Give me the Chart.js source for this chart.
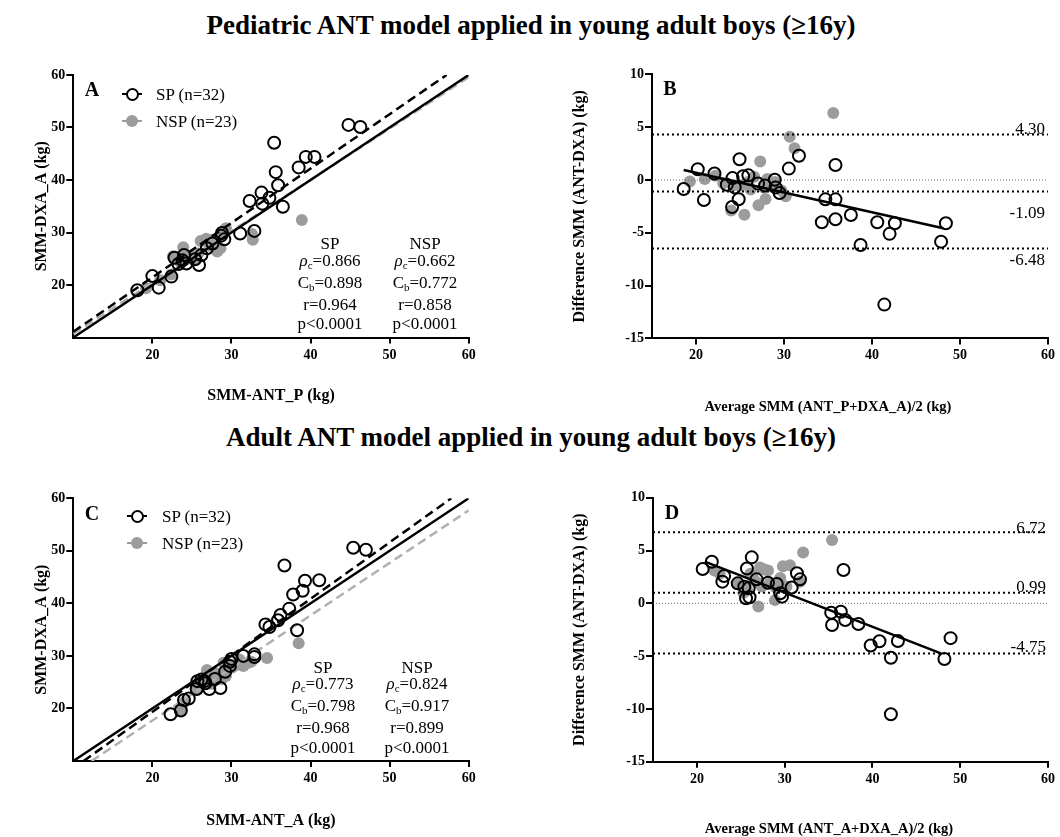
<!DOCTYPE html>
<html><head><meta charset="utf-8">
<script src="https://cdn.jsdelivr.net/npm/chart.js@4.4.1/dist/chart.umd.min.js"></script>
<style>
body{margin:0;background:#fff;width:1060px;height:837px;position:relative;overflow:hidden;font-family:'Liberation Serif','Times New Roman',serif;color:#000;}
canvas{position:absolute;}
.t{position:absolute;white-space:nowrap;line-height:1;pointer-events:none;}
.c{transform:translate(-50%,-50%);}
.l{transform:translate(0,-50%);}
.r{transform:translate(-100%,-50%);}
.ttl{font-size:27px;font-weight:bold;}
.let{font-size:20px;font-weight:bold;}
.axt{font-size:14.5px;font-weight:bold;}
.st{font-size:17px;}
.st sub{font-size:11px;vertical-align:-3px;}
.sym{position:absolute;pointer-events:none;box-sizing:border-box;}
</style></head><body>
<canvas id="cA" width="520" height="380" style="left:0;top:40px"></canvas>
<canvas id="cB" width="540" height="380" style="left:520px;top:40px"></canvas>
<canvas id="cC" width="520" height="377" style="left:0;top:460px"></canvas>
<canvas id="cD" width="540" height="377" style="left:520px;top:460px"></canvas>
<div id="ov"></div>
<script>
// ---------------- DATA ----------------
const titleTop = "Pediatric ANT model applied in young adult boys (\u226516y)";
const titleBottom = "Adult ANT model applied in young adult boys (\u226516y)";

// Panel A: SMM-ANT_P (x) vs SMM-DXA_A (y)
const aSpX = [18.1,20.0,20.8,22.4,22.8,23.3,24.0,23.8,24.3,25.4,25.9,26.2,26.9,27.6,28.7,28.8,29.1,31.1,32.9,32.3,33.8,33.9,34.8,35.4,35.6,35.9,36.5,38.5,39.4,40.5,44.8,46.3];
const aSpY = [19.0,21.7,19.5,21.6,25.2,24.0,25.7,24.7,24.1,24.9,23.8,25.7,27.0,27.9,29.4,29.9,28.7,29.8,30.3,36.0,37.6,35.5,36.6,47.1,41.5,39.0,34.9,42.4,44.4,44.4,50.5,50.1];
const aNspX = [19.2,21.0,22.4,22.6,23.5,23.9,24.5,25.0,25.8,26.1,26.8,27.2,28.2,28.6,29.3,29.0,28.0,32.7,38.9,32.6,24.2,25.3,27.5];
const aNspY = [19.4,20.9,22.0,25.5,24.4,27.2,25.0,25.5,26.0,28.4,28.8,27.5,26.4,27.0,30.8,30.0,28.2,28.6,32.4,29.7,25.8,24.8,28.6];
const aLineSp = [[10,11.1],[57.2,60]];
const aLineNsp = [[10,10.7],[60,59.6]];
const aIdentity = [[10,10],[60,60]];
const aStatsSp = ["0.866","0.898","0.964"];
const aStatsNsp = ["0.662","0.772","0.858"];

// Panel B: Bland-Altman (ANT_P vs DXA_A)
const bSpX = [18.6,20.2,20.9,22.1,23.5,24.15,24.4,24.95,24.85,24.1,25.35,25.95,27.05,27.85,28.95,29.05,29.5,30.55,31.7,34.3,34.7,35.85,35.85,35.85,37.6,38.7,40.6,42.0,42.6,41.4,47.85,48.4];
const bSpY = [-0.85,1.02,-1.9,0.62,-0.45,0.18,-0.7,1.96,-1.82,-2.55,0.35,0.44,-0.34,-0.52,0.03,-0.7,-1.23,1.08,2.3,-4.0,-1.83,1.42,-1.83,-3.72,-3.31,-6.15,-4.0,-5.1,-4.1,-11.8,-5.84,-4.1];
const bNspX = [19.3,21.0,22.2,23.1,24.0,24.3,25.2,25.5,25.9,26.2,26.6,27.1,27.3,27.9,28.1,28.4,29.0,30.2,29.7,30.65,31.2,35.6,27.7];
const bNspY = [-0.15,0.1,0.4,-0.3,-2.9,-0.5,-0.5,-3.3,-0.2,-0.9,0.3,-2.4,1.75,-1.8,0.1,-0.6,-0.2,-1.55,-1.0,4.1,3.0,6.35,-0.7];
const bRegLine = [[18.6,0.95],[48.1,-4.57]];
const bLimits = [4.30,-1.09,-6.48];

// Panel C: SMM-ANT_A (x) vs SMM-DXA_A (y)
const cSpX = [22.3,23.6,24.0,24.6,25.6,25.7,26.2,26.7,27.2,27.9,28.6,29.2,29.8,30.0,29.8,31.5,32.9,32.9,34.3,34.8,35.9,36.2,36.7,37.3,37.8,38.3,39.0,39.3,41.1,45.4,47.0,26.6];
const cSpY = [18.9,19.6,21.6,21.9,23.7,25.2,25.5,24.8,23.7,25.6,23.9,27.0,28.9,29.4,28.1,30.0,30.3,29.8,36.0,35.5,36.8,37.8,47.2,39.0,41.7,34.9,42.4,44.3,44.4,50.6,50.2,25.2];
const cNspX = [23.6,24.0,25.5,25.9,26.4,26.9,27.5,27.7,28.2,28.8,29.0,29.3,29.7,30.1,30.7,31.5,32.0,32.5,34.5,38.5,27.8,29.4,31.0];
const cNspY = [19.5,21.2,23.7,24.8,25.1,27.3,24.7,25.3,26.6,25.6,28.7,26.2,28.3,27.8,28.3,28.1,28.6,28.9,29.6,32.4,25.8,27.4,29.3];
const cLineSp = [[11.3,10],[57.8,60]];
const cLineNsp = [[12.3,10],[60,57.7]];
const cIdentity = [[10,10],[60,60]];
const cStatsSp = ["0.773","0.798","0.968"];
const cStatsNsp = ["0.824","0.917","0.899"];

// Panel D: Bland-Altman (ANT_A vs DXA_A)
const dSpX = [20.66,21.7,23.1,22.9,24.65,25.4,25.7,26.25,25.6,26.0,25.9,26.8,28.1,29.1,29.5,29.7,30.8,31.4,31.75,35.3,35.4,36.4,36.7,36.9,38.4,39.8,40.8,42.1,42.9,42.1,48.2,48.9];
const dSpY = [3.25,3.94,2.59,2.05,1.89,1.57,3.3,4.35,0.47,0.57,1.42,2.27,1.95,1.83,0.95,0.63,1.5,2.84,2.27,-0.89,-2.05,-0.8,3.15,-1.58,-1.96,-4.0,-3.6,-5.15,-3.57,-10.5,-5.27,-3.3];
const dNspX = [22.0,22.6,25.7,26.1,26.4,27.0,27.2,27.4,27.7,28.1,28.3,28.9,29.5,29.8,30.2,30.6,31.75,32.1,35.4,25.3,29.0,26.8,24.6];
const dNspY = [3.1,2.8,1.3,2.8,2.4,-0.3,3.4,1.6,3.2,3.1,1.9,0.3,2.4,3.5,1.6,3.6,2.05,4.8,6.0,1.0,1.5,2.0,1.8];
const dRegLine = [[20.9,3.95],[47.8,-4.75]];
const dLimits = [6.72,0.99,-4.75];

// Axes
const xTicksAC = [20,30,40,50,60];
const yTicksAC = [20,30,40,50,60];
const xTicksBD = [20,30,40,50,60];
const yTicksBD = [-15,-10,-5,0,5,10];
const legendLabels = ["SP (n=32)","NSP (n=23)"];
const xTitleB = "Average SMM (ANT_P+DXA_A)/2 (kg)";
const xTitleD = "Average SMM (ANT_A+DXA_A)/2 (kg)";

// ---------------- RENDER ----------------
const FONT = "'Liberation Serif','Times New Roman',serif";
const GRAY = '#9c9c9c';
const pts = (xs, ys) => xs.map((x, i) => ({x, y: ys[i]}));
const seg = s => s.map(p => ({x: p[0], y: p[1]}));

function spSet(data){return {data, showLine:false, pointRadius:6, pointHoverRadius:6, borderWidth:2, borderColor:'#000', backgroundColor:'rgba(0,0,0,0)'};}
function nspSet(data){return {data, showLine:false, pointRadius:6, pointHoverRadius:6, borderWidth:0, borderColor:GRAY, backgroundColor:GRAY};}
function lineSet(data, color, width, dash){return {data, showLine:true, pointRadius:0, pointHoverRadius:0, borderColor:color, backgroundColor:color, borderWidth:width, borderDash:dash||[], fill:false, tension:0};}

function build(id, p){
  const tickFont = {family:FONT, size:14, weight:'bold'};
  const titleFont = {family:FONT, size:16, weight:'bold'};
  return new Chart(document.getElementById(id), {
    type:'scatter',
    data:{datasets:p.datasets},
    options:{
      responsive:false, animation:false, devicePixelRatio:1,
      layout:{padding:{left:0, top:p.padTop, right:p.padRight, bottom:0}},
      plugins:{legend:{display:false}, tooltip:{enabled:false}},
      events:[],
      scales:{
        x:{type:'linear', position:'bottom', min:p.xMin, max:p.xMax,
          afterBuildTicks:s=>{s.ticks = p.xTicks.map(v=>({value:v}));},
          afterFit:s=>{s.height = p.xH;},
          grid:{display:true, drawOnChartArea:false, drawTicks:true, tickLength:6, lineWidth:2, color:'#000'},
          border:{display:true, color:'#000', width:2},
          ticks:{color:'#000', padding:3, font:tickFont, maxRotation:0, autoSkip:false},
          title:{display:!!p.xTitle, text:p.xTitle || '', color:'#000', font:titleFont, padding:{top:0, bottom:p.xTitlePad}}
        },
        y:{type:'linear', position:'left', min:p.yMin, max:p.yMax,
          afterBuildTicks:s=>{s.ticks = p.yTicks.map(v=>({value:v}));},
          afterFit:s=>{s.width = p.yW;},
          grid:{display:true, drawOnChartArea:false, drawTicks:true, tickLength:7, lineWidth:2, color:'#000'},
          border:{display:true, color:'#000', width:2},
          ticks:{color:'#000', padding:1, font:tickFont, autoSkip:false},
          title:{display:true, text:p.yTitle, color:'#000', font:titleFont, padding:{top:p.yTitlePad, bottom:0}}
        }
      }
    }
  });
}

function hline(v, x0, x1){return [[x0, v],[x1, v]];}

build('cA', {
  datasets:[spSet(pts(aSpX,aSpY)), lineSet(seg(aLineSp),'#000',2.5,[9,5]), lineSet(seg(aIdentity),'#000',2.5), lineSet(seg(aLineNsp),'#b0b0b0',2.5,[9,5]), nspSet(pts(aNspX,aNspY))],
  xMin:10, xMax:60, yMin:10, yMax:60, xTicks:xTicksAC, yTicks:yTicksAC,
  xTitle:'SMM-ANT_P (kg)', yTitle:'SMM-DXA_A (kg)',
  padTop:35, padRight:51.3, yW:73.3, xH:82.5, yTitlePad:32, xTitlePad:15
});
build('cB', {
  datasets:[spSet(pts(bSpX,bSpY)), lineSet(seg(bRegLine),'#000',2.5),
    ...bLimits.map(v=>lineSet(seg(hline(v,15,60)),'#000',2,[2,3])),
    lineSet(seg(hline(0,15,60)),'#666',1,[1,2]),
    nspSet(pts(bNspX,bNspY))],
  xMin:15, xMax:60, yMin:-15, yMax:10, xTicks:xTicksBD, yTicks:yTicksBD,
  xTitle:null, yTitle:'Difference SMM (ANT-DXA) (kg)',
  padTop:34.4, padRight:12, yW:132, xH:81.6, yTitlePad:50, xTitlePad:5
});
build('cC', {
  datasets:[spSet(pts(cSpX,cSpY)), lineSet(seg(cLineSp),'#000',2.5,[9,5]), lineSet(seg(cIdentity),'#000',2.5), lineSet(seg(cLineNsp),'#b0b0b0',2.5,[9,5]), nspSet(pts(cNspX,cNspY))],
  xMin:10, xMax:60, yMin:10, yMax:60, xTicks:xTicksAC, yTicks:yTicksAC,
  xTitle:'SMM-ANT_A (kg)', yTitle:'SMM-DXA_A (kg)',
  padTop:38.3, padRight:51.3, yW:73.3, xH:76, yTitlePad:32, xTitlePad:7
});
build('cD', {
  datasets:[spSet(pts(dSpX,dSpY)), lineSet(seg(dRegLine),'#000',2.5),
    ...dLimits.map(v=>lineSet(seg(hline(v,15,60)),'#000',2,[2,3])),
    lineSet(seg(hline(0,15,60)),'#666',1,[1,2]),
    nspSet(pts(dNspX,dNspY))],
  xMin:15, xMax:60, yMin:-15, yMax:10, xTicks:xTicksBD, yTicks:yTicksBD,
  xTitle:null, yTitle:'Difference SMM (ANT-DXA) (kg)',
  padTop:37.7, padRight:12, yW:133, xH:75.3, yTitlePad:50, xTitlePad:0
});

// ---------------- OVERLAY TEXT ----------------
const ov = document.getElementById('ov');
function txt(html, x, y, cls){const d=document.createElement('div'); d.className='t '+cls; d.style.left=x+'px'; d.style.top=y+'px'; d.innerHTML=html; ov.appendChild(d); return d;}
function box(x,y,w,h,style){const d=document.createElement('div'); d.className='sym'; d.style.left=x+'px'; d.style.top=y+'px'; d.style.width=w+'px'; d.style.height=h+'px'; Object.assign(d.style, style); ov.appendChild(d);}

txt(titleTop, 531, 25, 'c ttl');
txt(titleBottom, 531, 437, 'c ttl');
txt('A', 92, 89, 'c let'); txt('B', 670, 88, 'c let');
txt('C', 92, 513, 'c let'); txt('D', 672, 512, 'c let');
txt(xTitleB, 828, 406, 'c axt');
txt(xTitleD, 829, 828, 'c axt');

function legend(cx, y1, y2, tx){
  box(cx-10, y1-1, 20, 2, {background:'#000'});
  box(cx-6.5, y1-6.5, 13, 13, {border:'2px solid #000', borderRadius:'50%', background:'#fff'});
  txt(legendLabels[0], tx, y1, 'l st');
  box(cx-10, y2-1, 20, 2, {background:GRAY});
  box(cx-6, y2-6, 12, 12, {borderRadius:'50%', background:GRAY});
  txt(legendLabels[1], tx, y2, 'l st');
}
legend(132, 94, 121, 156);
legend(137, 516, 543, 162);

function stats(x, rows, head, vals){
  const lines = [head, '<i>\u03c1</i><sub>c</sub>='+vals[0], 'C<sub>b</sub>='+vals[1], 'r='+vals[2], 'p&lt;0.0001'];
  lines.forEach((h,i)=>txt(h, x, rows[i], 'c st'));
}
stats(330, [243,261,282.5,303.5,323], 'SP', aStatsSp);
stats(425, [243,261,282.5,303.5,323], 'NSP', aStatsNsp);
stats(323, [667,684,706,727,747], 'SP', cStatsSp);
stats(417, [667,684,706,727,747], 'NSP', cStatsNsp);

const bLabY = [128, 212, 259];
bLimits.forEach((v,i)=>txt(v.toFixed(2), 1045, bLabY[i], 'r st'));
const dLabY = [527, 586, 646];
dLimits.forEach((v,i)=>txt(v.toFixed(2), 1046, dLabY[i], 'r st'));
</script>
</body></html>
